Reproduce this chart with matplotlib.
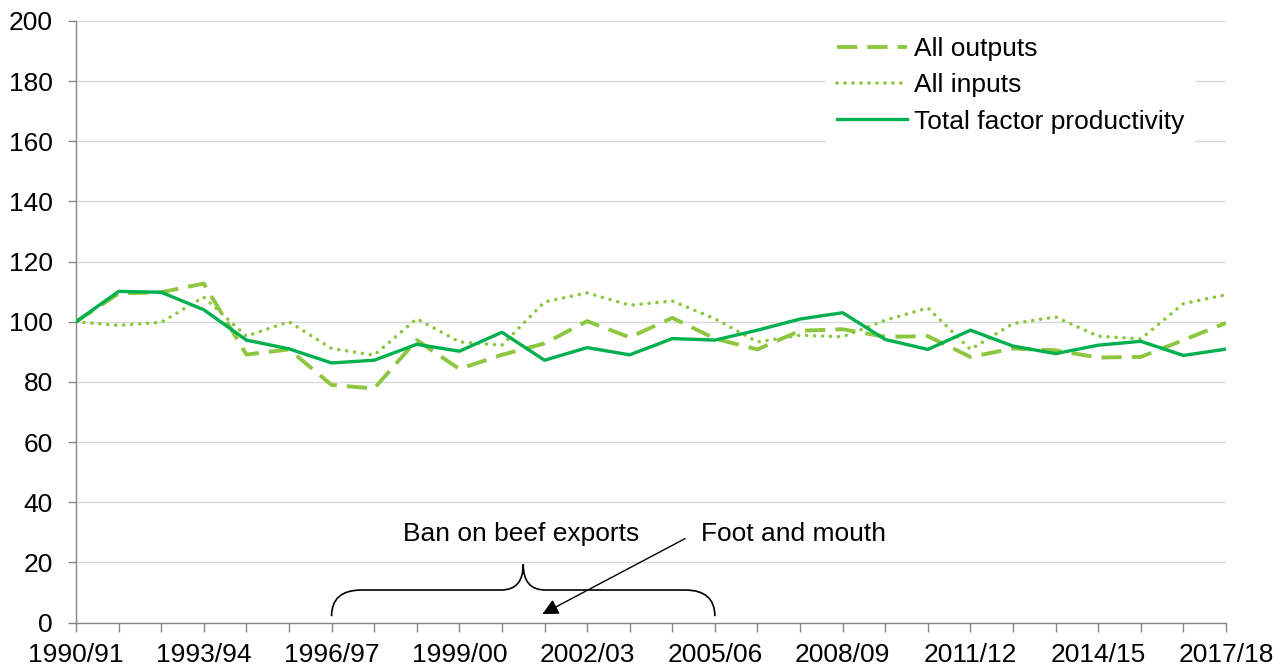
import matplotlib
matplotlib.use("Agg")
import matplotlib.pyplot as plt
from matplotlib.path import Path
from matplotlib.patches import PathPatch

plt.rcParams['font.family'] = ['Liberation Sans', 'DejaVu Sans']

# 数据
years = ['1990/91', '1991/92', '1992/93', '1993/94', '1994/95', '1995/96', '1996/97',
         '1997/98', '1998/99', '1999/00', '2000/01', '2001/02', '2002/03', '2003/04',
         '2004/05', '2005/06', '2006/07', '2007/08', '2008/09', '2009/10', '2010/11',
         '2011/12', '2012/13', '2013/14', '2014/15', '2015/16', '2016/17', '2017/18']
all_outputs = [100, 109.4, 109.8, 112.7, 89.1, 90.8, 79.0, 77.8, 93.9, 84.3,
               89.0, 92.8, 100.2, 94.8, 101.3, 94.4, 90.8, 97.0, 97.5, 95.0,
               95.2, 88.3, 91.1, 90.5, 88.1, 88.3, 93.9, 99.6]
all_inputs = [100, 98.8, 99.8, 108.2, 95.2, 100.0, 91.1, 88.9, 101.0, 93.3,
              92.2, 106.6, 109.6, 105.5, 106.9, 101.0, 93.3, 95.5, 95.0, 100.5,
              104.6, 90.8, 99.4, 101.6, 95.2, 94.3, 106.0, 109.0]
tfp = [100, 110.1, 109.8, 104.0, 93.9, 91.0, 86.3, 87.2, 92.5, 90.2,
       96.5, 87.2, 91.4, 89.0, 94.4, 93.9, 97.2, 100.9, 103.0, 94.1,
       90.8, 97.2, 91.9, 89.4, 92.2, 93.5, 88.8, 90.9]

light_green = '#8dc63f'
dark_green = '#00b04f'
FS = 19

fig = plt.figure(figsize=(12.87, 6.71), dpi=100)
ax = fig.add_axes([76 / 1287, 48.5 / 671, 1150 / 1287, 601.5 / 671])

x = list(range(len(years)))
ax.plot(x, all_outputs, color=light_green, linewidth=2.8, dashes=(5.2, 2.6),
        label='All outputs', zorder=3)
ax.plot(x, all_inputs, color=light_green, linewidth=2.6, dashes=(0.01, 2.2),
        dash_capstyle='round', label='All inputs', zorder=3)
ax.plot(x, tfp, color=dark_green, linewidth=2.4, label='Total factor productivity',
        zorder=4)

ax.set_xlim(0, len(years) - 1)
ax.set_ylim(0, 200)
ax.set_yticks(range(0, 201, 20))
ax.set_xticks(x)
ax.set_xticklabels([y if i % 3 == 0 else '' for i, y in enumerate(years)])
ax.tick_params(axis='both', labelsize=FS, colors='#868686', labelcolor='black',
               width=1, direction='out')
ax.tick_params(axis='x', length=6.5, pad=8)
ax.tick_params(axis='y', length=5.8, pad=11)

ax.grid(axis='y', color='#d9d9d9', linewidth=1)
ax.set_axisbelow(True)
for side in ['top', 'right']:
    ax.spines[side].set_visible(False)
for side in ['left', 'bottom']:
    ax.spines[side].set_color('#868686')
    ax.spines[side].set_linewidth(1)

# 花括号
codes = [Path.MOVETO, Path.CURVE3, Path.CURVE3, Path.LINETO, Path.CURVE3, Path.CURVE3,
         Path.CURVE3, Path.CURVE3, Path.LINETO, Path.CURVE3, Path.CURVE3]
verts = [(6, 2.1), (6, 10.8), (6.7, 10.8), (9.98, 10.8), (10.5, 10.8), (10.5, 19.3),
         (10.5, 10.8), (11.02, 10.8), (14.3, 10.8), (15, 10.8), (15, 2.1)]
ax.add_patch(PathPatch(Path(verts, codes), facecolor='none', edgecolor='black',
                       linewidth=1.2, zorder=5))

ax.text(10.45, 27.0, 'Ban on beef exports', fontsize=FS, ha='center', va='baseline')
ax.text(14.68, 27.0, 'Foot and mouth', fontsize=FS, ha='left', va='baseline')
ax.annotate('', xy=(10.95, 2.8), xytext=(14.3, 27.9),
            arrowprops=dict(arrowstyle='-|>', color='black', lw=1,
                            mutation_scale=24, shrinkA=0, shrinkB=0))

ax.legend(loc='upper left', bbox_to_anchor=(0.641, 1.013), fontsize=FS,
          frameon=True, facecolor='white', edgecolor='none', framealpha=1,
          fancybox=False, handlelength=2.65, handletextpad=0.27, labelspacing=0.47,
          borderpad=0.4)

fig.savefig('out.png', dpi=100)
